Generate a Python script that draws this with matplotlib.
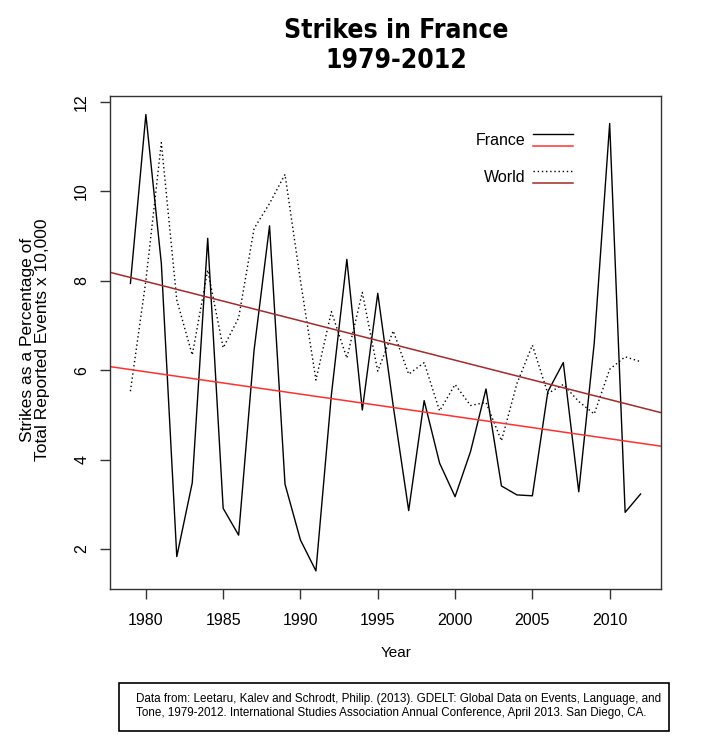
import numpy as np
import matplotlib
matplotlib.use("Agg")
import matplotlib.pyplot as plt
from matplotlib.lines import Line2D
from matplotlib.patches import Rectangle
from matplotlib.legend_handler import HandlerBase

plt.rcParams['font.family'] = ['Liberation Sans', 'DejaVu Sans']

years = np.arange(1979, 2013)
france = [7.94, 11.72, 8.39, 1.83, 3.48, 8.95, 2.91, 2.31, 6.45, 9.23,
          3.45, 2.20, 1.51, 5.45, 8.48, 5.11, 7.72, 5.20, 2.86, 5.32,
          3.92, 3.17, 4.18, 5.58, 3.41, 3.21, 3.19, 5.52, 6.17, 3.28,
          6.60, 11.52, 2.82, 3.23]
world = [5.53, 8.00, 11.09, 7.57, 6.34, 8.24, 6.50, 7.17, 9.17, 9.73,
         10.38, 8.00, 5.78, 7.31, 6.27, 7.74, 5.98, 6.88, 5.91, 6.17,
         5.09, 5.68, 5.21, 5.28, 4.42, 5.70, 6.56, 5.48, 5.68, 5.30,
         5.02, 6.02, 6.30, 6.19]
# trend lines, at the two ends of the x range
trend_years = [1977.68, 2013.32]
trend_france = [6.08, 4.30]
trend_world = [8.19, 5.05]
xticks = [1980, 1985, 1990, 1995, 2000, 2005, 2010]
yticks = [2, 4, 6, 8, 10, 12]

W, H = 718, 750
fig = plt.figure(figsize=(W / 100, H / 100), dpi=100)
ax = fig.add_axes([110 / W, 1 - 589 / H, 551 / W, 493 / H])

dotted = (0, (1, 2))
l_fr, = ax.plot(years, france, color='black', lw=1.0)
l_wo, = ax.plot(years, world, color='black', lw=1.0, linestyle=dotted)
t_fr, = ax.plot(trend_years, trend_france, color='#ff3030', lw=1.1)
t_wo, = ax.plot(trend_years, trend_world, color='#a52a2a', lw=1.1)

ax.set_xlim(trend_years[0], trend_years[1])
ax.set_ylim(1.105, 12.134)
ax.set_xticks(xticks)
ax.set_yticks(yticks)
ax.set_yticklabels([str(v) for v in yticks], rotation=90, va='center')
ax.tick_params(axis='both', direction='out', length=7, width=1,
               labelsize=11.5, color='#333333')
ax.tick_params(axis='x', pad=10)
ax.tick_params(axis='y', pad=8)
for s in ax.spines.values():
    s.set_color('#333333')
    s.set_linewidth(1)


class HandlerStack(HandlerBase):
    def create_artists(self, legend, orig_handle, xdescent, ydescent,
                       width, height, fontsize, trans):
        top, bottom = orig_handle
        yc = height / 2 - ydescent
        out = []
        for h, yy in ((top, yc + 3.8), (bottom, yc - 4.8)):
            ln = Line2D([-xdescent, width - xdescent], [yy, yy])
            ln.update_from(h)
            ln.set_transform(trans)
            out.append(ln)
        return out


ax.legend([(l_fr, t_fr), (l_wo, t_wo)], ['France', 'World'],
          handler_map={tuple: HandlerStack()},
          loc='upper right', bbox_to_anchor=(573 / W, 1 - 133 / H),
          bbox_transform=fig.transFigure, frameon=False, fontsize=11.5,
          markerfirst=False, borderpad=0, borderaxespad=0,
          handlelength=2.5, handletextpad=0.45, labelspacing=1.35)

fig.text(396 / W, 1 - 46 / H, 'Strikes in France\n1979-2012',
         ha='center', va='center', fontsize=19, fontweight='bold',
         fontstretch='condensed', family=['DejaVu Sans'], linespacing=1.2)

fig.text(396 / W, 1 - 653 / H, 'Year', ha='center', va='center', fontsize=11)
fig.text(35.5 / W, 1 - 340 / H,
         'Strikes as a Percentage of\nTotal Reported Events x 10,000',
         ha='center', va='center', rotation=90, fontsize=12.5,
         multialignment='center', linespacing=1.0)

fig.add_artist(Rectangle((119 / W, 1 - 731 / H), 550 / W, 48 / H,
                         transform=fig.transFigure, fill=False,
                         edgecolor='black', lw=1.2))
fig.text(136 / W, 1 - 706 / H,
         'Data from: Leetaru, Kalev and Schrodt, Philip. (2013). GDELT: Global Data on Events, Language, and\n'
         'Tone, 1979-2012. International Studies Association Annual Conference, April 2013. San Diego, CA.',
         ha='left', va='center', fontsize=8.4, linespacing=1.25)

fig.savefig('out.png', dpi=100)
